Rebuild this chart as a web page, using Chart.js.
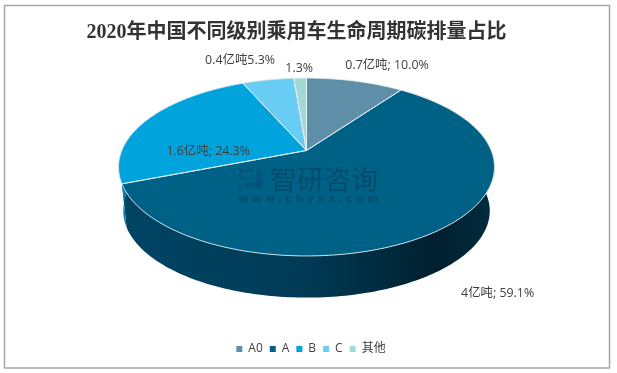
<!DOCTYPE html>
<html>
<head>
<meta charset="utf-8">
<script src="https://cdn.jsdelivr.net/npm/chart.js@4"></script>
<style>
html, body { margin: 0; padding: 0; background: #fff; }
canvas { display: block; }
</style>
</head>
<body>
<canvas id="c" width="617" height="373"></canvas>
<script>
const titleText = "2020年中国不同级别乘用车生命周期碳排量占比";
const categories = ["A0", "A", "B", "C", "其他"];
const shares = [10.0, 59.1, 24.3, 5.3, 1.3];
const sliceLabels = ["0.7亿吨; 10.0%", "4亿吨; 59.1%", "1.6亿吨; 24.3%", "0.4亿吨5.3%", "1.3%"];

const topColors = ["#5f8fa8", "#006186", "#00a3dc", "#68ccf5", "#a2d9d6"];
// nudge from the slice's rim midpoint to the label centre
const labelNudge = [[32, -16], [59, 63], [61, 32], [-28, -19], [-1, -10]];

// tilted disc: circle seen in perspective, apex is not the ellipse centre
const apexX = 306.5, apexY = 150.5;
const radX = 184.7, radY = 85.9, persp = 0.1854;
const depth = 44.3, depthScale = 0.975;

function $(id) { return document.getElementById(id); }

// angle is chart.js arc angle (-PI/2 = 12 o'clock)
function project(angle, r, low) {
  const u = Math.cos(angle) * r;
  const v = Math.sin(angle) * r;
  const w = 1 - persp * v;
  const s = low ? depthScale : 1;
  return {
    x: apexX + s * radX * u / w,
    y: apexY + s * radY * v / w + (low ? depth : 0),
  };
}

function traceRim(ctx, from, to, low, first) {
  const steps = Math.max(4, Math.ceil(Math.abs(to - from) / 0.02));
  for (let i = 0; i <= steps; i++) {
    const p = project(from + (to - from) * i / steps, 1, low);
    if (first && i === 0) ctx.moveTo(p.x, p.y);
    else ctx.lineTo(p.x, p.y);
  }
}

const tiltedPie = {
  id: "tiltedPie",
  afterLayout(chart) {
    // title sits left of the legend in the original
    chart.titleBlock.right -= 29;
  },
  beforeDatasetDraw(chart) {
    const ctx = chart.ctx;
    const arcs = chart.getDatasetMeta(0).data;
    ctx.save();

    // side wall
    const wall = ctx.createLinearGradient(122, 0, 491, 0);
    wall.addColorStop(0, "#004565");
    wall.addColorStop(0.5, "#003a55");
    wall.addColorStop(0.85, "#00202f");
    wall.addColorStop(1, "#002b3e");
    const sideFill = [null, wall, "#0a7fae", "#3f9cc4", "#6fa9a6"];
    arcs.forEach((arc, i) => {
      if (!sideFill[i]) return;
      ctx.beginPath();
      traceRim(ctx, arc.startAngle, arc.endAngle, false, true);
      traceRim(ctx, arc.endAngle, arc.startAngle, true, false);
      ctx.closePath();
      ctx.fillStyle = sideFill[i];
      ctx.fill();
    });

    // top faces
    arcs.forEach((arc, i) => {
      ctx.beginPath();
      ctx.moveTo(apexX, apexY);
      traceRim(ctx, arc.startAngle, arc.endAngle, false, false);
      ctx.closePath();
      ctx.fillStyle = topColors[i];
      ctx.fill();
    });
    arcs.forEach(arc => {
      ctx.beginPath();
      ctx.moveTo(apexX, apexY);
      traceRim(ctx, arc.startAngle, arc.endAngle, false, false);
      ctx.closePath();
      ctx.strokeStyle = "rgba(232,240,244,0.85)";
      ctx.lineWidth = 1;
      ctx.lineJoin = "round";
      ctx.stroke();
    });

    // watermark
    ctx.fillStyle = "rgba(10,70,120,0.45)";
    ctx.fillRect(239, 169, 15, 3);
    ctx.fillRect(239, 169, 3, 10);
    ctx.fillRect(239, 177, 12, 2);
    ctx.fillRect(256, 169, 6, 18);
    ctx.fillRect(244, 183, 18, 5);
    ctx.fillRect(239, 183, 3, 9);
    ctx.fillStyle = "rgba(0,50,80,0.45)";
    ctx.textAlign = "left";
    ctx.textBaseline = "middle";
    ctx.font = "27px 'Noto Sans CJK SC'";
    ctx.fillText("智研咨询", 270, 180);
    ctx.font = "bold 10.5px 'DejaVu Sans'";
    ctx.letterSpacing = "3.8px";
    ctx.fillText("www.chyxx.com", 238, 199);
    ctx.letterSpacing = "0px";

    // slice labels
    ctx.textAlign = "center";
    ctx.fillStyle = "#404040";
    ctx.font = "12.4px 'Open Sans', 'Noto Sans CJK SC'";
    arcs.forEach((arc, i) => {
      const p = project((arc.startAngle + arc.endAngle) / 2, 1, false);
      ctx.fillText(sliceLabels[i], p.x + labelNudge[i][0], p.y + labelNudge[i][1]);
    });

    ctx.restore();
    return false;
  },
  beforeDraw(chart) {
    const ctx = chart.ctx;
    ctx.save();
    ctx.fillStyle = "#fff";
    ctx.fillRect(0, 0, chart.width, chart.height);
    ctx.strokeStyle = "#a6a6a6";
    ctx.lineWidth = 1.5;
    ctx.strokeRect(4.5, 5.5, 605, 362.5);
    ctx.restore();
  },
};

function main() {
  new Chart($("c").getContext("2d"), {
    type: "pie",
    data: {
      labels: categories,
      datasets: [{ data: shares, backgroundColor: topColors, borderWidth: 0 }],
    },
    options: {
      responsive: false,
      animation: false,
      layout: { padding: { bottom: 8, left: 5 } },
      plugins: {
        title: {
          display: true,
          text: titleText,
          color: "#333333",
          font: { family: "'Liberation Serif', 'Noto Sans CJK SC'", size: 20, weight: "bold" },
          padding: { top: 21, bottom: 8 },
        },
        legend: {
          position: "bottom",
          labels: {
            color: "#404040",
            font: { family: "'Open Sans', 'Noto Sans CJK SC'", size: 12 },
            usePointStyle: true,
            pointStyle: "rect",
            boxWidth: 6,
            boxHeight: 6,
            padding: 7,
          },
        },
        tooltip: { enabled: false },
      },
    },
    plugins: [tiltedPie],
  });
}

main();
</script>
</body>
</html>
